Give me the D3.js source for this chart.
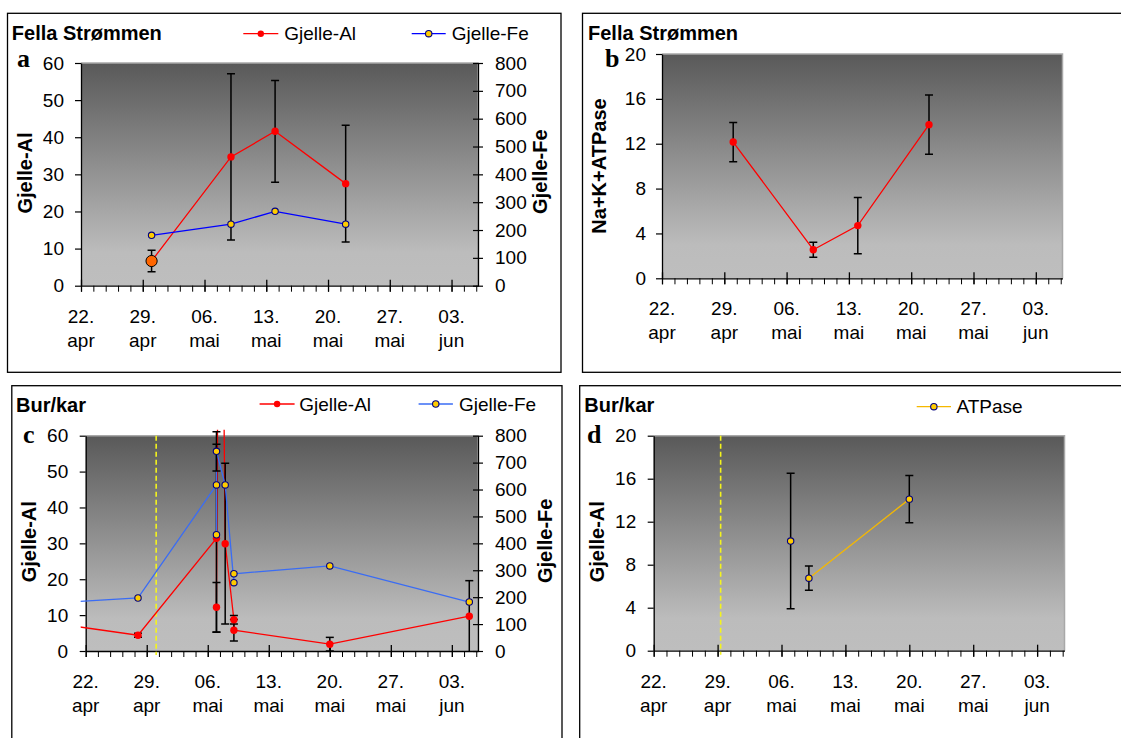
<!DOCTYPE html>
<html>
<head>
<meta charset="utf-8">
<script src="https://cdn.jsdelivr.net/npm/d3@7"></script>
<style>
  body { margin: 0; background: #fff; }
  svg { display: block; }
  text { font-family: "Liberation Sans", Arial, sans-serif; fill: #000; }
</style>
</head>
<body>
<div id="chart"></div>
<script>
// ---------- data ----------
const axisStart = "2002-04-22";
const axisEnd = "2002-06-06";
const xTickLabels = [["22.", "apr"], ["29.", "apr"], ["06.", "mai"], ["13.", "mai"], ["20.", "mai"], ["27.", "mai"], ["03.", "jun"]];
const alTicks = [0, 10, 20, 30, 40, 50, 60];
const feTicks = [0, 100, 200, 300, 400, 500, 600, 700, 800];
const atpTicks = [0, 4, 8, 12, 16, 20];

// a: Fella Strømmen, gill Al / Fe
const aDates = ["2002-04-30", "2002-05-09", "2002-05-14", "2002-05-22"];
const aAl = [6.65, 34.7, 41.6, 27.5];
const aAlErr = [2.9, 22.4, 13.7, 15.7];
const aFe = [181, 221, 267, 221];

// b: Fella Strømmen, Na+K+ATPase
const bDates = ["2002-04-30", "2002-05-09", "2002-05-14", "2002-05-22"];
const bAtp = [12.15, 2.55, 4.7, 13.7];
const bAtpErr = [1.75, 0.67, 2.5, 2.65];

// c: Bur/kar, gill Al / Fe (first point lies before the axis start)
const cAlDates = ["2002-04-14", "2002-04-28", "2002-05-07", "2002-05-07", "2002-05-07T10:00", "2002-05-08", "2002-05-09", "2002-05-09", "2002-05-20", "2002-06-05"];
const cAl = [9.2, 4.4, 31.4, 12.2, 185, 29.9, 8.7, 5.8, 1.9, 9.7];
const cAlErr = [null, 0.55, 26.2, 6.9, null, 22.4, 1.2, 3.0, 1.9, 9.9];
const cFeDates = ["2002-04-14", "2002-04-28", "2002-05-07", "2002-05-07", "2002-05-07", "2002-05-08", "2002-05-09", "2002-05-09", "2002-05-20", "2002-06-05"];
const cFe = [170, 197, 617, 432, 742, 617, 254, 287, 316, 182];
const cFeErr = [null, null, null, null, 73, null, null, null, null, null];
const cTransfer = "2002-04-30T02:00";

// d: Bur/kar, ATPase (blank cell breaks the line)
const dDates = ["2002-05-07", "2002-05-08", "2002-05-09", "2002-05-20"];
const dAtp = [10.2, null, 6.75, 14.1];
const dAtpErr = [6.3, null, 1.13, 2.2];
const dTransfer = "2002-04-29T08:00";

// ---------- helpers ----------
const parse = s => new Date(s.length > 10 ? s + ":00Z" : s + "T00:00Z");
const zip = (dates, vals, errs) => dates.map((d, i) => ({ date: parse(d), v: vals[i], e: errs ? errs[i] : null }));

const W = 1121, H = 738;
const svg = d3.select("#chart").append("svg").attr("width", W).attr("height", H);
const defs = svg.append("defs");
const grad = defs.append("linearGradient").attr("id", "plotBg")
    .attr("x1", 0).attr("y1", 0).attr("x2", 0).attr("y2", 1);
grad.append("stop").attr("offset", "0%").attr("stop-color", "#595959");
grad.append("stop").attr("offset", "85%").attr("stop-color", "#bcbcbc");
grad.append("stop").attr("offset", "100%").attr("stop-color", "#bebebe");

const fontSerif = '"Liberation Serif", "Times New Roman", serif';

function panel(id, box, plot, title, titlePos, letter, letterPos) {
    svg.append("rect")
        .attr("x", box[0]).attr("y", box[1])
        .attr("width", box[2] - box[0]).attr("height", box[3] - box[1])
        .attr("fill", "none").attr("stroke", "#000").attr("stroke-width", 1.3);
    svg.append("text")
        .attr("x", titlePos[0]).attr("y", titlePos[1])
        .attr("font-weight", "bold").attr("font-size", "20px")
        .text(title);
    svg.append("text")
        .attr("x", letterPos[0]).attr("y", letterPos[1])
        .style("font-family", fontSerif)
        .attr("font-weight", "bold").attr("font-size", "26px")
        .text(letter);

    svg.append("rect")
        .attr("x", plot.l).attr("y", plot.t)
        .attr("width", plot.r - plot.l).attr("height", plot.b - plot.t)
        .attr("fill", "url(#plotBg)");
    svg.append("path")
        .attr("d", `M${plot.l},${plot.t}H${plot.r}V${plot.b}`)
        .attr("fill", "none").attr("stroke", "#a8a8a8").attr("stroke-width", 1.5);

    defs.append("clipPath").attr("id", "clip-" + id)
        .append("rect")
        .attr("x", plot.l - 5).attr("y", plot.t - 6)
        .attr("width", plot.r - plot.l + 5).attr("height", plot.b - plot.t + 6);

    const start = parse(axisStart);
    const x = d3.scaleUtc().domain([start, parse(axisEnd)]).range([plot.l, plot.r]);

    // minor ticks every 1.4 days, major every 7 days
    const minor = d3.range(0, 45.001, 1.4).map(d => new Date(start.getTime() + d * 864e5));
    const major = d3.range(0, 43, 7).map(d => d3.utcDay.offset(start, d));

    svg.append("g")
        .attr("transform", `translate(0,${plot.b})`)
        .call(d3.axisBottom(x).tickValues(minor).tickSize(6).tickSizeOuter(0).tickFormat(() => ""))
        .call(g => g.select(".domain").remove())
        .call(g => g.selectAll("line").attr("stroke", "#000"));

    const xg = svg.append("g")
        .attr("transform", `translate(0,${plot.b})`)
        .call(d3.axisBottom(x).tickValues(major).tickSize(6).tickSizeOuter(0).tickFormat(() => ""));
    xg.select(".domain").attr("stroke", "#000").attr("stroke-width", 1.3);
    xg.selectAll(".tick line").attr("y1", -6).attr("stroke", "#000").attr("stroke-width", 1.3);
    xg.selectAll(".tick text").remove();

    major.forEach((d, i) => {
        const t = svg.append("text")
            .attr("text-anchor", "middle")
            .attr("font-size", "19px");
        t.append("tspan").attr("x", x(d)).attr("y", plot.b + 37).text(xTickLabels[i][0]);
        t.append("tspan").attr("x", x(d)).attr("y", plot.b + 61).text(xTickLabels[i][1]);
    });

    return { x, plot, clip: `url(#clip-${id})` };
}

function leftAxis(p, y, ticks, pad, label, labelPos) {
    const g = svg.append("g")
        .attr("transform", `translate(${p.plot.l},0)`)
        .call(d3.axisLeft(y).tickValues(ticks).tickSize(6).tickPadding(pad).tickSizeOuter(0));
    g.select(".domain").attr("stroke", "#000").attr("stroke-width", 1.3);
    g.selectAll(".tick line").attr("stroke", "#000").attr("stroke-width", 1.2);
    g.selectAll(".tick text").attr("font-size", "19px").style("font-family", null).attr("fill", "#000");
    axisTitle(label, labelPos);
}

function rightAxis(p, y, ticks, label, labelPos) {
    const g = svg.append("g")
        .attr("transform", `translate(${p.plot.r},0)`)
        .call(d3.axisRight(y).tickValues(ticks).tickSize(5).tickPadding(12).tickSizeOuter(0));
    g.select(".domain").attr("stroke", "#000").attr("stroke-width", 1.3);
    g.selectAll(".tick line").attr("x1", -5).attr("stroke", "#000").attr("stroke-width", 1.2);
    g.selectAll(".tick text").attr("font-size", "19px").style("font-family", null).attr("fill", "#000");
    axisTitle(label, labelPos);
}

function axisTitle(label, pos) {
    svg.append("text")
        .attr("transform", `translate(${pos[0]},${pos[1]}) rotate(-90)`)
        .attr("text-anchor", "middle")
        .attr("dy", "0.36em")
        .attr("font-weight", "bold")
        .attr("font-size", "20px")
        .text(label);
}

function errorBars(g, data, x, y) {
    const eb = g.append("g").attr("stroke", "#000").attr("stroke-width", 1.5);
    data.filter(d => d.e != null && d.v != null).forEach(d => {
        const cx = x(d.date), y0 = y(d.v - d.e), y1 = y(d.v + d.e);
        eb.append("line").attr("x1", cx).attr("x2", cx).attr("y1", y0).attr("y2", y1);
        eb.append("line").attr("x1", cx - 4).attr("x2", cx + 4).attr("y1", y0).attr("y2", y0);
        eb.append("line").attr("x1", cx - 4).attr("x2", cx + 4).attr("y1", y1).attr("y2", y1);
    });
}

// like Excel: line, then its error bars, then its markers
function series(g, data, x, y, color, fill, stroke, r) {
    const line = d3.line().defined(d => d.v != null).x(d => x(d.date)).y(d => y(d.v));
    g.append("path").datum(data)
        .attr("d", line)
        .attr("fill", "none").attr("stroke", color).attr("stroke-width", 1.3);
    errorBars(g, data, x, y);
    g.selectAll(null).data(data.filter(d => d.v != null)).join("circle")
        .attr("cx", d => x(d.date)).attr("cy", d => y(d.v)).attr("r", r)
        .attr("fill", fill)
        .attr("stroke", stroke || "none").attr("stroke-width", 1.1);
}

function legendItem(x1, x2, yy, color, fill, stroke, label, textX) {
    svg.append("line").attr("x1", x1).attr("x2", x2).attr("y1", yy).attr("y2", yy)
        .attr("stroke", color).attr("stroke-width", 1.3);
    svg.append("circle").attr("cx", (x1 + x2) / 2).attr("cy", yy).attr("r", 3.2)
        .attr("fill", fill).attr("stroke", stroke || "none").attr("stroke-width", 1.1);
    svg.append("text").attr("x", textX).attr("y", yy + 6.5)
        .attr("font-size", "19px").text(label);
}

function transferLine(p, date) {
    const xx = p.x(parse(date));
    svg.append("line")
        .attr("x1", xx).attr("x2", xx).attr("y1", p.plot.t).attr("y2", p.plot.b + 4)
        .attr("stroke", "#f4f41c").attr("stroke-width", 1.6).attr("stroke-dasharray", "5,3");
}

// ---------- panel a ----------
{
    const p = panel("a", [7.5, 13.3, 561, 372.3], { l: 81, r: 478, t: 63, b: 285.7 },
        "Fella Strømmen", [11.8, 40], "a", [17, 67]);
    const yAl = d3.scaleLinear().domain([0, 60]).range([p.plot.b, p.plot.t]);
    const yFe = d3.scaleLinear().domain([0, 800]).range([p.plot.b, p.plot.t]);
    leftAxis(p, yAl, alTicks, 11, "Gjelle-Al", [25, 173]);
    rightAxis(p, yFe, feTicks, "Gjelle-Fe", [540, 171.7]);

    const al = zip(aDates, aAl, aAlErr);
    const fe = zip(aDates, aFe);
    const g = svg.append("g").attr("clip-path", p.clip);
    series(g, al, p.x, yAl, "#ff0000", "#ff0000", null, 3.7);
    series(g, fe, p.x, yFe, "#0000ff", "#ffcc00", "#000080", 3.2);
    // first Al sample shown with an enlarged orange marker
    g.append("circle")
        .attr("cx", p.x(al[0].date)).attr("cy", yAl(al[0].v)).attr("r", 5.6)
        .attr("fill", "#ff6600").attr("stroke", "#000").attr("stroke-width", 1);

    legendItem(243.3, 278.3, 33.7, "#ff0000", "#ff0000", null, "Gjelle-Al", 284.3);
    legendItem(411.7, 445.7, 33.7, "#0000ff", "#ffcc00", "#000080", "Gjelle-Fe", 451.7);
}

// ---------- panel b ----------
{
    const p = panel("b", [582.5, 13.3, 1130, 372.3], { l: 662, r: 1062.5, t: 54, b: 278.3 },
        "Fella Strømmen", [588, 40], "b", [605, 66.7]);
    const y = d3.scaleLinear().domain([0, 20]).range([p.plot.b, p.plot.t]);
    leftAxis(p, y, atpTicks, 10, "Na+K+ATPase", [599, 166]);

    const atp = zip(bDates, bAtp, bAtpErr);
    const g = svg.append("g").attr("clip-path", p.clip);
    series(g, atp, p.x, y, "#ff0000", "#ff0000", null, 3.7);
}

// ---------- panel c ----------
{
    const p = panel("c", [11.8, 385.7, 562, 745], { l: 85.7, r: 478, t: 435.7, b: 651 },
        "Bur/kar", [16, 411.7], "c", [23, 443.3]);
    const yAl = d3.scaleLinear().domain([0, 60]).range([p.plot.b, p.plot.t]);
    const yFe = d3.scaleLinear().domain([0, 800]).range([p.plot.b, p.plot.t]);
    leftAxis(p, yAl, alTicks, 11.5, "Gjelle-Al", [28.6, 541.7]);
    rightAxis(p, yFe, feTicks, "Gjelle-Fe", [544.6, 540.8]);
    transferLine(p, cTransfer);

    const al = zip(cAlDates, cAl, cAlErr);
    const fe = zip(cFeDates, cFe, cFeErr);
    const g = svg.append("g").attr("clip-path", p.clip);
    series(g, al, p.x, yAl, "#ff0000", "#ff0000", null, 3.7);
    series(g, fe, p.x, yFe, "#3a6cf4", "#ffcc00", "#000080", 3.2);

    legendItem(259.6, 294.6, 404, "#ff0000", "#ff0000", null, "Gjelle-Al", 299.3);
    legendItem(418.6, 452.9, 404, "#3a6cf4", "#ffcc00", "#000080", "Gjelle-Fe", 459);
}

// ---------- panel d ----------
{
    const p = panel("d", [579.7, 385.7, 1130, 745], { l: 653.7, r: 1064.5, t: 435.7, b: 650.7 },
        "Bur/kar", [584.3, 411.7], "d", [587, 443.3]);
    const y = d3.scaleLinear().domain([0, 20]).range([p.plot.b, p.plot.t]);
    leftAxis(p, y, atpTicks, 11.5, "Gjelle-Al", [596.9, 541.7]);
    transferLine(p, dTransfer);

    const atp = zip(dDates, dAtp, dAtpErr);
    const g = svg.append("g").attr("clip-path", p.clip);
    series(g, atp, p.x, y, "#f5b800", "#ffcc00", "#000080", 3.2);

    legendItem(916.7, 951, 406.7, "#f5b800", "#ffcc00", "#000080", "ATPase", 956.4);
}
</script>
</body>
</html>
